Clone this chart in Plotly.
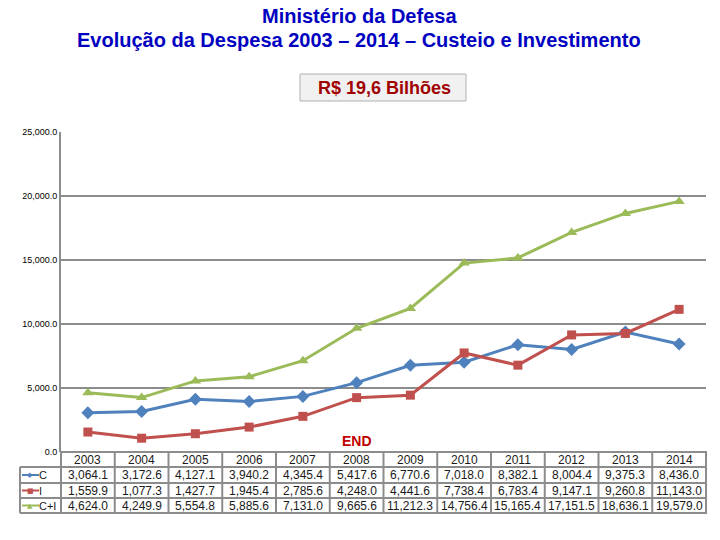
import plotly.graph_objects as go

years = ["2003", "2004", "2005", "2006", "2007", "2008", "2009", "2010", "2011", "2012", "2013", "2014"]
custeio = [3064.1, 3172.6, 4127.1, 3940.2, 4345.4, 5417.6, 6770.6, 7018.0, 8382.1, 8004.4, 9375.3, 8436.0]
investimento = [1559.9, 1077.3, 1427.7, 1945.4, 2785.6, 4248.0, 4441.6, 7738.4, 6783.4, 9147.1, 9260.8, 11143.0]
total = [4624.0, 4249.9, 5554.8, 5885.6, 7131.0, 9665.6, 11212.3, 14756.4, 15165.4, 17151.5, 18636.1, 19579.0]
series_names = ["C", "I", "C+I"]
y_ticks = [0, 5000, 10000, 15000, 20000, 25000]

title_line1 = "Ministério da Defesa"
title_line2 = "Evolução da Despesa 2003 – 2014 – Custeio e Investimento"
box_text = "R$ 19,6 Bilhões"
end_label = "END"
end_index = 5

W, H = 720, 540
ML, MR, MT, MB = 61, 14, 132, 88
PW, PH = W - ML - MR, H - MT - MB


def xp(px):
    return (px - ML) / PW


def yp(py):
    return (H - MB - py) / PH


colors = ["#4F81BD", "#C0504D", "#9BBB59"]
symbols = ["diamond", "square", "triangle-up"]
sizes = [10, 9, 10]
glyphs = ["◆", "■", "▲"]
series = [custeio, investimento, total]

fig = go.Figure()
for name, vals, c, s, sz in zip(series_names, series, colors, symbols, sizes):
    fig.add_trace(go.Scatter(
        x=years, y=vals, name=name, mode="lines+markers",
        line=dict(color=c, width=3),
        marker=dict(symbol=s, size=sz, color=c),
        showlegend=False,
    ))

shapes = []
annotations = []
grid = "#8c8c8c"
FONT = "Liberation Sans, Arial"

# title
for txt, py in [(title_line1, 16), (title_line2, 40)]:
    annotations.append(dict(text="<b>" + txt + "</b>", x=xp(359), xref="paper", xanchor="center",
                            y=yp(py), yref="paper", yanchor="middle", showarrow=False,
                            font=dict(family=FONT, size=20, color="#0000C0")))
# box
shapes.append(dict(type="rect", xref="paper", yref="paper", x0=xp(300), x1=xp(466),
                   y0=yp(101), y1=yp(74), fillcolor="#f1f1f1",
                   line=dict(color="#b0b0b0", width=1), layer="below"))
annotations.append(dict(text="<b>" + box_text + "</b>", x=xp(384), xref="paper", xanchor="center",
                        y=yp(88), yref="paper", yanchor="middle", showarrow=False,
                        font=dict(family=FONT, size=18, color="#A00000")))
# END
annotations.append(dict(text="<b>" + end_label + "</b>", x=end_index, xref="x", xanchor="center",
                        y=yp(441), yref="paper", yanchor="middle", showarrow=False,
                        font=dict(family=FONT, size=14, color="#C00000")))

# table
n = len(years)
row_y = [452, 467, 483, 498, 513]
left_px = 20
for i, ry in enumerate(row_y):
    x0 = 0 if i == 0 else xp(left_px)
    shapes.append(dict(type="line", xref="paper", yref="paper", x0=x0, x1=1.0015,
                       y0=yp(ry), y1=yp(ry), line=dict(color=grid, width=2)))
for k in range(n + 1):
    shapes.append(dict(type="line", xref="paper", yref="paper", x0=k / n, x1=k / n,
                       y0=yp(452), y1=yp(513), line=dict(color=grid, width=2)))
shapes.append(dict(type="line", xref="paper", yref="paper", x0=xp(left_px), x1=xp(left_px),
                   y0=yp(467), y1=yp(513), line=dict(color=grid, width=2)))

tfont = dict(family=FONT, size=12, color="#1a1a1a")
for k, yr in enumerate(years):
    annotations.append(dict(text=yr, x=k, xref="x", xanchor="center",
                            y=yp((row_y[0] + row_y[1]) / 2), yref="paper", yanchor="middle",
                            showarrow=False, font=tfont))
for r, vals in enumerate(series):
    cy = yp((row_y[r + 1] + row_y[r + 2]) / 2)
    for k, v in enumerate(vals):
        annotations.append(dict(text=f"{v:,.1f}", x=k, xref="x", xanchor="center",
                                y=cy, yref="paper", yanchor="middle", showarrow=False, font=tfont))
    # legend cell
    shapes.append(dict(type="line", xref="paper", yref="paper", x0=xp(22), x1=xp(39),
                       y0=cy, y1=cy, line=dict(color=colors[r], width=2)))
    annotations.append(dict(text=glyphs[r], x=xp(30), xref="paper", xanchor="center",
                            y=cy, yref="paper", yanchor="middle", showarrow=False,
                            font=dict(family="DejaVu Sans", size=7, color=colors[r])))
    annotations.append(dict(text=series_names[r], x=xp(37), xref="paper", xanchor="left",
                            y=cy, yref="paper", yanchor="middle", showarrow=False,
                            font=dict(family=FONT, size=11, color="#1a1a1a")))

fig.update_layout(
    width=W, height=H,
    margin=dict(l=ML, r=MR, t=MT, b=MB),
    paper_bgcolor="white", plot_bgcolor="white",
    shapes=shapes, annotations=annotations,
    xaxis=dict(range=[-0.5, n - 0.5], showticklabels=False, showgrid=False,
               zeroline=False, showline=False, ticks=""),
    yaxis=dict(range=[0, 25000], tickvals=y_ticks, tickformat=",.1f",
               showgrid=True, gridcolor=grid, gridwidth=2, zeroline=False,
               showline=True, linecolor=grid, linewidth=2, ticks="",
               tickfont=dict(family=FONT, size=9, color="black")),
)

fig.write_html("out.html", config={"displayModeBar": False},
               post_script="document.body.style.margin='0';")
